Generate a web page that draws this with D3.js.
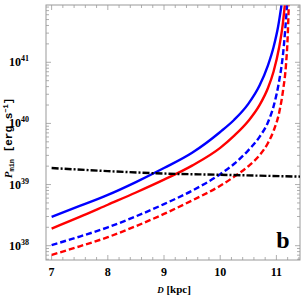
<!DOCTYPE html>
<html>
<head>
<meta charset="utf-8">
<script src="https://cdn.jsdelivr.net/npm/d3@7"></script>
<style>
  body { margin: 0; background: #fff; }
  #chart { width: 304px; height: 300px; }
  text { font-family: "Liberation Serif", "DejaVu Serif", serif; }
</style>
</head>
<body>
<div id="chart"></div>
<script>
// distance D [kpc] and log10 P_min for each curve
const blueSolidD = [7.0, 7.5, 8.0, 8.5, 9.0, 9.5, 10.0, 10.25, 10.5, 10.7, 10.85, 10.95, 11.03, 11.09];
const blueSolidP = [38.47, 38.65, 38.83, 39.04, 39.27, 39.52, 39.86, 40.06, 40.32, 40.62, 40.95, 41.25, 41.58, 41.93];

const redSolidD = [7.0, 7.5, 8.0, 8.5, 9.0, 9.5, 10.0, 10.25, 10.5, 10.7, 10.85, 10.95, 11.05, 11.11, 11.15];
const redSolidP = [38.28, 38.47, 38.67, 38.87, 39.08, 39.31, 39.60, 39.80, 40.04, 40.30, 40.58, 40.85, 41.25, 41.6, 41.93];

const blueDashD = [7.0, 7.5, 8.0, 8.5, 9.0, 9.5, 10.0, 10.25, 10.5, 10.7, 10.85, 10.95, 11.05, 11.12, 11.19];
const blueDashP = [38.01, 38.15, 38.30, 38.48, 38.68, 38.90, 39.17, 39.34, 39.56, 39.78, 40.02, 40.28, 40.70, 41.15, 41.93];

const redDashD = [7.0, 7.5, 8.0, 8.5, 9.0, 9.5, 10.0, 10.25, 10.5, 10.7, 10.85, 10.95, 11.05, 11.12, 11.17, 11.2, 11.22];
const redDashP = [37.85, 37.99, 38.14, 38.32, 38.52, 38.74, 38.98, 39.13, 39.30, 39.48, 39.68, 39.88, 40.18, 40.55, 40.95, 41.4, 41.93];

const blackD = [7.0, 8.0, 9.0, 10.0, 11.42];
const blackP = [39.27, 39.22, 39.18, 39.16, 39.13];

const xTicks = [7, 8, 9, 10, 11];
const yTickExp = [38, 39, 40, 41];

const W = 304, H = 300;
const margin = {left: 46, right: 4, top: 5, bottom: 40};

const svg = d3.select("#chart").append("svg")
  .attr("width", W).attr("height", H);

const x = d3.scaleLinear().domain([6.9, 11.42])
  .range([margin.left, W - margin.right]);
const y = d3.scaleLog().domain([Math.pow(10, 37.766), Math.pow(10, 41.937)])
  .range([H - margin.bottom, margin.top]);

const x0 = margin.left, x1 = W - margin.right, y0 = H - margin.bottom, y1 = margin.top;
const frameColor = "#9a9a9a";

// minor / major ticks
const xMinor = d3.range(7, 11.41, 0.2).map(v => +v.toFixed(1));
const yMinor = [];
for (let e = 37; e <= 41; e++) for (let m = 1; m <= 9; m++) {
  const v = m * Math.pow(10, e);
  if (v >= y.domain()[0] && v <= y.domain()[1]) yMinor.push({v, major: m === 1});
}

const tickG = svg.append("g").attr("stroke", frameColor).attr("stroke-width", 0.8);
xMinor.forEach(v => {
  const major = Math.abs(v - Math.round(v)) < 1e-6;
  const len = major ? 5 : 3;
  tickG.append("line").attr("x1", x(v)).attr("x2", x(v)).attr("y1", y0).attr("y2", y0 - len);
  tickG.append("line").attr("x1", x(v)).attr("x2", x(v)).attr("y1", y1).attr("y2", y1 + len);
});
yMinor.forEach(d => {
  const len = d.major ? 5 : 3;
  tickG.append("line").attr("x1", x0).attr("x2", x0 + len).attr("y1", y(d.v)).attr("y2", y(d.v));
  tickG.append("line").attr("x1", x1).attr("x2", x1 - len).attr("y1", y(d.v)).attr("y2", y(d.v));
});

// frame
svg.append("rect")
  .attr("x", x0).attr("y", y1).attr("width", x1 - x0).attr("height", y0 - y1)
  .attr("fill", "none").attr("stroke", frameColor).attr("stroke-width", 1);

// tick labels
svg.append("g").selectAll("text").data(xTicks).join("text")
  .attr("x", d => x(d)).attr("y", y0 + 16)
  .attr("text-anchor", "middle")
  .attr("font-size", 12).attr("font-weight", "bold")
  .text(d => d);

const yl = svg.append("g").selectAll("text").data(yTickExp).join("text")
  .attr("x", x0 - 17).attr("y", d => y(Math.pow(10, d)) + 4)
  .attr("text-anchor", "end")
  .attr("font-size", 12).attr("font-weight", "bold");
yl.append("tspan").text("10");
yl.append("tspan").attr("dy", -5).attr("font-size", 8).text(d => d);

// curves
svg.append("clipPath").attr("id", "clip").append("rect")
  .attr("x", x0).attr("y", y1).attr("width", x1 - x0).attr("height", y0 - y1);

const line = d3.line().x(d => x(d[0])).y(d => y(Math.pow(10, d[1]))).curve(d3.curveMonotoneX);
const series = [
  {D: blueSolidD, P: blueSolidP, color: "#0000ff", dash: null},
  {D: redSolidD, P: redSolidP, color: "#ff0000", dash: null},
  {D: blueDashD, P: blueDashP, color: "#0000ff", dash: "6,3"},
  {D: redDashD, P: redDashP, color: "#ff0000", dash: "6,3"},
  {D: blackD, P: blackP, color: "#000000", dash: "7,2,2,2"}
];
svg.append("g").attr("clip-path", "url(#clip)").selectAll("path").data(series).join("path")
  .attr("d", s => line(s.D.map((d, i) => [d, s.P[i]])))
  .attr("fill", "none")
  .attr("stroke", s => s.color)
  .attr("stroke-width", 2.4)
  .attr("stroke-dasharray", s => s.dash);

// panel letter
svg.append("text").attr("x", 283).attr("y", 248)
  .attr("text-anchor", "middle").attr("font-size", 24).attr("font-weight", "bold")
  .text("b");

// axis titles
const xt = svg.append("text").attr("x", 174).attr("y", 293)
  .attr("text-anchor", "middle").attr("font-size", 11).attr("font-weight", "bold");
xt.append("tspan").attr("font-style", "italic").attr("font-size", 9).text("D");
xt.append("tspan").text(" [kpc]");

const yt = svg.append("text")
  .attr("transform", `translate(12, 138) rotate(-90)`)
  .attr("text-anchor", "middle").attr("font-size", 11).attr("font-weight", "bold");
yt.append("tspan").attr("font-style", "italic").text("P");
yt.append("tspan").attr("font-family", "Liberation Mono").attr("font-size", 7).attr("dy", 2).text("min");
yt.append("tspan").attr("font-family", "Liberation Mono").attr("dy", -2).text(" [erg  s");
yt.append("tspan").attr("font-family", "Liberation Mono").attr("font-size", 7).attr("dy", -4).text("−1");
yt.append("tspan").attr("font-family", "Liberation Mono").attr("dy", 4).text("]");
</script>
</body>
</html>
